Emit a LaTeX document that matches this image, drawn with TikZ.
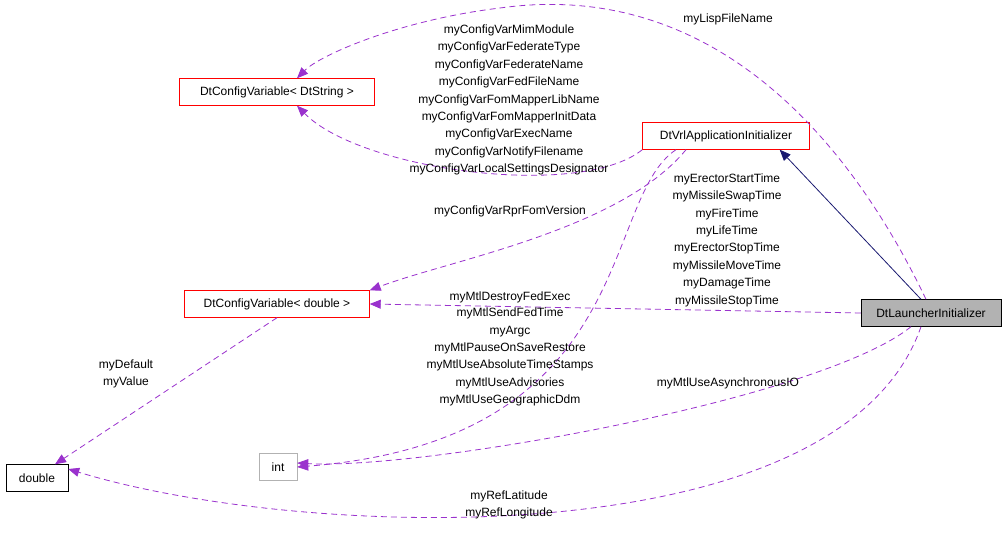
\documentclass[tikz,border=0pt]{standalone}
\usepackage{fontspec}
\setmainfont{Liberation Sans}
\usetikzlibrary{arrows.meta}
\definecolor{usecol}{HTML}{9A32CD}
\definecolor{inhcol}{HTML}{191970}
\tikzset{
  cls/.style={draw=red, fill=white, inner sep=0pt, minimum height=27pt, font=\fontsize{12}{17.4}\selectfont},
  use/.style={draw=usecol, dashed, line width=0.8pt, dash pattern=on 6pt off 4pt, -{Triangle[length=11pt,width=9pt,fill=usecol]}},
  inh/.style={draw=inhcol, line width=0.8pt, -{Triangle[length=11pt,width=9pt,fill=inhcol]}},
  lbl/.style={font=\fontsize{12}{17.4}\selectfont, align=center, inner sep=0pt}
}
\begin{document}
\begin{tikzpicture}[x=1pt, y=-1pt]
\useasboundingbox (0,0) rectangle (1008,540);
% classes
\node[cls, minimum width=195pt] (str) at (277,92) {DtConfigVariable< DtString >};
\node[cls, minimum width=167pt] (vrl) at (726,136) {DtVrlApplicationInitializer};
\node[cls, minimum width=185pt] (cfd) at (277,304) {DtConfigVariable< double >};
\node[cls, draw=black, fill=gray!60, minimum width=140pt] (lau) at (931,313) {DtLauncherInitializer};
\node[cls, draw=black, minimum width=62pt] (dbl) at (37,478) {double};
\node[cls, draw=gray!60, minimum width=38pt] (int) at (278,467) {int};
% connectors
\draw[inh] ([xshift=-10pt]lau.north) -- ([xshift=-30pt]vrl.south east);
\draw[use] ([xshift=-5pt]lau.north) .. controls (840,120) and (700,-20) .. (500,8) .. controls (400,20) and (320,55) .. ([xshift=20pt]str.north);
\draw[use] (vrl.south west) .. controls (580,200) and (360,170) .. ([xshift=20pt]str.south);
\draw[use] ([xshift=-40pt]vrl.south) .. controls (620,230) and (450,260) .. (cfd.north east);
\draw[use] ([xshift=-50pt]vrl.south) .. controls (600,200) and (640,440) .. (int.east);
\draw[use] (lau.west) -- (cfd.east);
\draw[use] ([xshift=-20pt]lau.south) .. controls (820,400) and (420,470) .. ([yshift=4pt]int.east);
\draw[use] ([xshift=-10pt]lau.south) .. controls (840,560) and (300,540) .. ([yshift=9pt]dbl.east);
\draw[use] (cfd.south) -- ([xshift=18pt]dbl.north);
% labels
\node[lbl] at (728,19) {myLispFileName};
\node[lbl] at (509,100) {myConfigVarMimModule\\myConfigVarFederateType\\myConfigVarFederateName\\myConfigVarFedFileName\\myConfigVarFomMapperLibName\\myConfigVarFomMapperInitData\\myConfigVarExecName\\myConfigVarNotifyFilename\\myConfigVarLocalSettingsDesignator};
\node[lbl] at (510,211) {myConfigVarRprFomVersion};
\node[lbl] at (727,240) {myErectorStartTime\\myMissileSwapTime\\myFireTime\\myLifeTime\\myErectorStopTime\\myMissileMoveTime\\myDamageTime\\myMissileStopTime};
\node[lbl] at (510,297) {myMtlDestroyFedExec};
\node[lbl] at (510,357) {myMtlSendFedTime\\myArgc\\myMtlPauseOnSaveRestore\\myMtlUseAbsoluteTimeStamps\\myMtlUseAdvisories\\myMtlUseGeographicDdm};
\node[lbl] at (728,383) {myMtlUseAsynchronousIO};
\node[lbl] at (126,374) {myDefault\\myValue};
\node[lbl] at (509,505) {myRefLatitude\\myRefLongitude};
\end{tikzpicture}
\end{document}
